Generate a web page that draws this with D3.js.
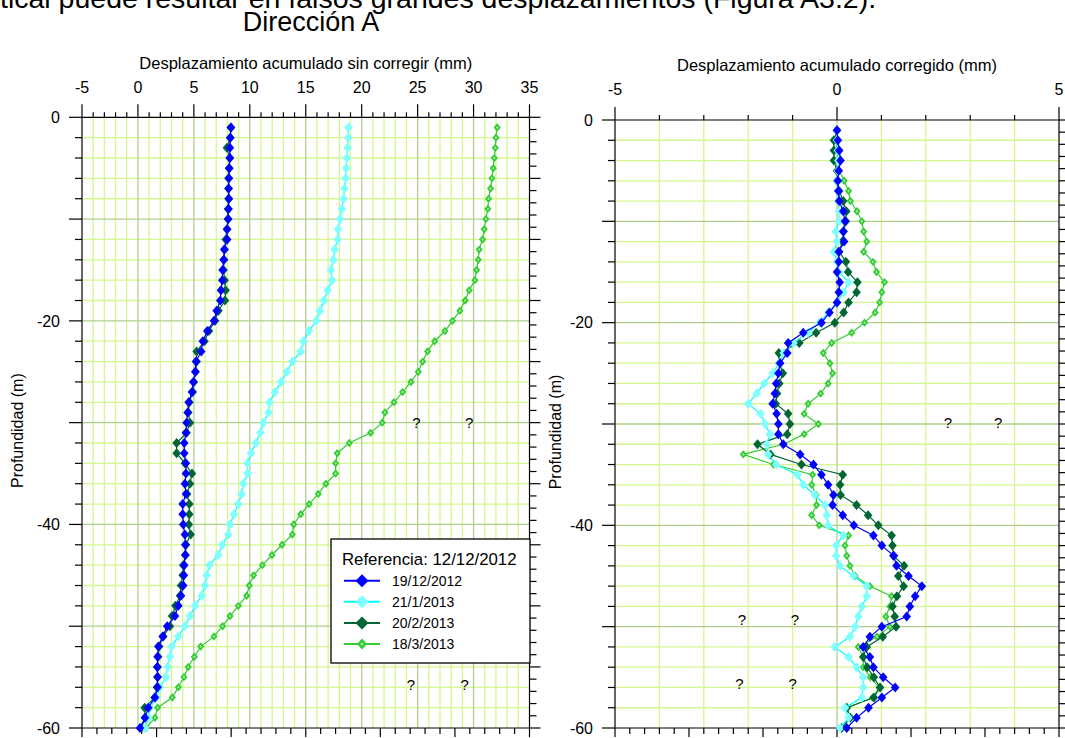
<!DOCTYPE html>
<html><head><meta charset="utf-8">
<script src="https://cdn.jsdelivr.net/npm/d3@7"></script>
<style>
body{margin:0;background:#fff}
svg{display:block}
text{font-family:Arial,"Liberation Sans",sans-serif;fill:#000}
</style>
</head><body>
<svg id="c" width="1065" height="738"></svg>
<script>
// ---------------- DATA ----------------
const depths = [-1,-2,-3,-4,-5,-6,-7,-8,-9,-10,-11,-12,-13,-14,-15,-16,-17,-18,-19,-20,
  -21,-22,-23,-24,-25,-26,-27,-28,-29,-30,-31,-32,-33,-34,-35,-36,-37,-38,-39,-40,
  -41,-42,-43,-44,-45,-46,-47,-48,-49,-50,-51,-52,-53,-54,-55,-56,-57,-58,-59,-60];

const seriesNames = ["19/12/2012","21/1/2013","20/2/2013","18/3/2013"];
const legendTitle = "Referencia: 12/12/2012";

// Left panel: uncorrected cumulative displacement (mm)
const rawBlue = [8.32,8.25,8.22,8.22,8.16,8.13,8.10,8.13,8.10,8.07,
  7.98,7.98,7.72,7.66,7.57,7.54,7.42,7.36,7.03,6.80,
  6.20,5.80,5.66,5.19,5.13,4.95,4.83,4.53,4.44,4.35,
  4.29,4.14,4.14,4.29,4.29,4.20,4.29,4.00,4.00,4.05,
  4.20,4.23,4.23,4.14,4.11,4.05,3.85,3.61,3.31,2.62,
  2.21,1.82,1.76,1.73,1.76,1.76,1.52,0.92,0.63,0.18];
const rawCyan = [18.83,18.80,18.74,18.68,18.62,18.56,18.47,18.38,18.23,18.06,
  17.90,17.85,17.58,17.46,17.25,17.34,16.96,16.63,16.27,15.94,
  15.29,14.80,14.54,13.82,13.32,12.80,12.25,11.77,11.68,11.20,
  10.95,10.55,10.10,9.77,9.80,9.42,9.27,8.97,8.58,8.23,
  8.07,7.54,7.18,6.40,6.14,5.99,5.70,5.10,4.65,4.20,
  3.61,3.01,2.86,2.66,2.51,1.97,1.67,1.08,0.93,0.63];
const rawDarkGreen = [8.30,8.25,7.95,8.20,8.15,8.10,8.10,8.10,8.05,8.05,
  7.95,7.85,7.75,7.70,7.65,7.75,7.84,7.78,7.20,6.90,
  6.35,5.95,5.25,5.25,5.15,5.00,4.90,4.60,4.50,4.65,
  4.35,3.46,3.46,4.20,4.83,4.65,4.40,4.59,4.59,4.55,
  4.71,4.30,4.25,4.05,4.00,3.85,3.76,3.35,3.05,2.86,
  2.27,1.90,1.80,1.75,1.75,1.70,1.50,0.60,0.65,0.30];
const rawGreen = [32.11,32.00,31.94,31.85,31.76,31.64,31.52,31.34,31.28,31.10,
  30.95,30.80,30.50,30.42,30.27,30.12,29.61,29.25,28.78,28.12,
  27.44,26.52,25.89,25.45,25.06,24.40,23.66,22.88,22.08,21.84,
  20.80,18.89,17.82,17.67,17.67,16.80,16.12,15.30,14.55,13.92,
  13.80,12.88,11.98,11.12,10.34,9.95,9.72,8.97,8.23,7.57,
  6.80,5.61,5.04,4.50,4.11,3.61,3.07,1.76,1.52,0.72];

// Right panel: corrected cumulative displacement (mm)
const corBlue = [0.00,0.02,0.05,0.08,0.04,0.02,0.03,0.05,0.14,0.18,
  0.14,0.16,0.04,0.04,0.00,0.06,0.04,0.00,-0.17,-0.35,
  -0.76,-1.10,-1.12,-1.28,-1.32,-1.37,-1.40,-1.45,-1.36,-1.32,
  -1.32,-1.21,-0.83,-0.53,-0.35,-0.20,-0.08,-0.10,0.13,0.38,
  0.82,1.01,1.28,1.34,1.61,1.91,1.76,1.64,1.57,1.01,
  0.74,0.59,0.74,0.82,1.04,1.31,1.01,0.71,0.44,0.22];
const corCyan = [0.00,0.00,0.02,0.03,0.02,0.00,0.02,0.03,0.05,0.05,
  -0.03,0.00,-0.07,0.00,0.05,0.26,0.15,0.00,-0.20,-0.40,
  -0.65,-0.98,-1.20,-1.30,-1.45,-1.64,-1.81,-2.00,-1.72,-1.62,
  -1.51,-1.58,-1.55,-1.37,-0.89,-0.76,-0.50,-0.27,-0.23,-0.20,
  0.14,-0.02,-0.02,0.07,0.37,0.67,0.67,0.56,0.48,0.41,
  0.29,-0.05,0.26,0.44,0.59,0.59,0.56,0.18,0.26,0.07];
const corDarkGreen = [0.00,-0.07,-0.07,-0.07,0.00,0.00,0.05,0.14,0.21,0.20,
  0.15,0.12,0.05,0.20,0.25,0.46,0.44,0.26,0.15,-0.05,
  -0.47,-0.85,-1.31,-1.30,-1.22,-1.30,-1.35,-1.38,-1.10,-1.06,
  -1.12,-1.79,-1.50,-0.80,0.13,0.07,0.08,0.44,0.70,0.93,
  1.23,1.25,1.27,1.51,1.38,1.50,1.35,1.25,1.30,1.33,
  1.03,0.67,0.59,0.68,0.83,0.97,0.83,0.22,0.30,0.10];
const corGreen = [0.00,-0.02,0.00,0.02,0.05,0.16,0.26,0.30,0.45,0.56,
  0.60,0.67,0.60,0.81,0.89,1.07,1.01,0.96,0.86,0.62,
  0.33,-0.12,-0.31,-0.16,-0.10,-0.20,-0.37,-0.65,-0.74,-0.42,
  -0.74,-1.20,-2.11,-1.43,-0.55,-0.57,-0.47,-0.46,-0.57,-0.40,
  0.26,0.18,0.22,0.29,0.41,0.74,1.23,1.19,1.10,1.19,
  0.90,0.48,0.59,0.59,0.75,0.95,0.80,0.22,0.30,0.12];

// tick values
const leftXMajor = [-5,0,5,10,15,20,25,30,35];
const rightXMajor = [-5,0,5];
const depthLabels = [0,-20,-40,-60];

// "?" annotations (data coordinates)
const qLeft = [[24.9,-30],[29.6,-30],[24.4,-55.7],[29.2,-55.7]];
const qRight = [[2.5,-29.9],[3.63,-29.9],[-2.14,-49.3],[-0.95,-49.3],[-2.2,-55.6],[-1.0,-55.6]];

// ---------------- STYLE ----------------
const colors = ["#0000ff","#00ffff","#006633","#33cc33"];
const markerFill = ["#0000ff","#80ffff","#006633","#33cc33"];
const gridMinor = "#d4f78f";
const gridMajor = "#b0d08a";

const svg = d3.select("#c");
svg.append("rect").attr("width",1065).attr("height",738).attr("fill","#fff");

// top text (cropped body text) and title
svg.append("text").attr("x",0).attr("y",8).style("font-size","28.5px")
  .text("tical puede resultar en falsos grandes desplazamientos (Figura A3.2).");
svg.append("text").attr("x",311).attr("y",31).attr("text-anchor","middle").style("font-size","27px")
  .text("Dirección A");

function diamond(w,h){return `M0,${-h}L${w},0L0,${h}L${-w},0Z`;}

function panel(opt){
  const x = d3.scaleLinear().domain(opt.xDomain).range(opt.xRange);
  const y = d3.scaleLinear().domain([0,-60]).range(opt.yRange);
  const g = svg.append("g");
  const [x0,x1] = opt.xRange, [y0,y1] = opt.yRange;

  // grid
  const vx = d3.range(opt.xDomain[0]+1, opt.xDomain[1], 1);
  const hy = d3.range(-2,-60,-2);
  const isMajX = v => opt.majorGridX.includes(v);
  const isMajY = v => v % 10 === 0;
  g.selectAll(".vmin").data(vx.filter(v=>!isMajX(v))).join("line")
    .attr("x1",d=>x(d)).attr("x2",d=>x(d)).attr("y1",y0).attr("y2",y1)
    .attr("stroke",gridMinor).attr("stroke-width",1.3);
  g.selectAll(".hmin").data(hy.filter(v=>!isMajY(v))).join("line")
    .attr("y1",d=>y(d)).attr("y2",d=>y(d)).attr("x1",x0).attr("x2",x1)
    .attr("stroke",gridMinor).attr("stroke-width",1.3);
  g.selectAll(".vmaj").data(vx.filter(isMajX)).join("line")
    .attr("x1",d=>x(d)).attr("x2",d=>x(d)).attr("y1",y0).attr("y2",y1)
    .attr("stroke",gridMajor).attr("stroke-width",1.3);
  g.selectAll(".hmaj").data(hy.filter(isMajY)).join("line")
    .attr("y1",d=>y(d)).attr("y2",d=>y(d)).attr("x1",x0).attr("x2",x1)
    .attr("stroke",gridMajor).attr("stroke-width",1.3);

  // axes lines
  const ax = svg.append("g").attr("stroke","#000").attr("stroke-width",1.2);
  ax.append("line").attr("x1",x0).attr("x2",x1).attr("y1",y0).attr("y2",y0);
  ax.append("line").attr("x1",x0).attr("x2",x1).attr("y1",y1).attr("y2",y1);
  ax.append("line").attr("x1",x0).attr("x2",x0).attr("y1",y0).attr("y2",y1).attr("stroke","#333").attr("stroke-width",1.5);
  ax.append("line").attr("x1",x1).attr("x2",x1).attr("y1",y0).attr("y2",y1);

  // top ticks
  const topMinor = d3.range(opt.xDomain[0], opt.xDomain[1]+0.001, 1);
  ax.selectAll(".tt").data(topMinor).join("line")
    .attr("x1",d=>x(d)).attr("x2",d=>x(d)).attr("y1",y0)
    .attr("y2",d=>opt.xMajor.includes(d)? y0-13 : y0-5);
  // left ticks
  const leftT = d3.range(0,-60.001,-2);
  ax.selectAll(".lt").data(leftT).join("line")
    .attr("y1",d=>y(d)).attr("y2",d=>y(d)).attr("x1",x0)
    .attr("x2",d=> d%10===0 ? x0-13 : x0-7);
  // right secondary ticks
  const yR = d3.scaleLinear().domain([0,-50]).range(opt.yRange);
  ax.selectAll(".rt").data(d3.range(0,-50.001,-1)).join("line")
    .attr("y1",d=>yR(d)).attr("y2",d=>yR(d)).attr("x1",x1)
    .attr("x2",d=> d%5===0 ? x1+11 : x1+7);
  // bottom secondary ticks
  const xB = d3.scaleLinear().domain([0,6]).range(opt.xRange);
  ax.selectAll(".bt").data(d3.range(0,6.001,0.2)).join("line")
    .attr("x1",d=>xB(d)).attr("x2",d=>xB(d)).attr("y1",y1)
    .attr("y2",(d,i)=> i%5===0 ? y1+9 : y1+6);

  // labels
  svg.append("g").selectAll("text").data(opt.xMajor).join("text")
    .attr("x",d=>x(d)).attr("y",opt.xLabelY).attr("text-anchor","middle")
    .style("font-size","16px").text(d=>d);
  svg.append("g").selectAll("text").data(depthLabels).join("text")
    .attr("x",x0-22).attr("y",d=>y(d)).attr("dy","0.36em").attr("text-anchor","end")
    .style("font-size","16px").text(d=>d);
  svg.append("text").attr("x",(x0+x1)/2 + opt.titleDx).attr("y",opt.titleY).attr("text-anchor","middle")
    .style("font-size","16.5px").text(opt.title);
  svg.append("text").attr("transform",`translate(${opt.ylabX},${(y0+y1)/2+8}) rotate(-90)`)
    .attr("text-anchor","middle").style("font-size","16px").text("Profundidad (m)");

  // "?" notes
  svg.append("g").selectAll("text").data(opt.q).join("text")
    .attr("x",d=>x(d[0])).attr("y",d=>y(d[1])).attr("dy","0.36em").attr("text-anchor","middle")
    .style("font-size","15px").text("?");

  // series (draw 18/3 first, 19/12 on top)
  const line = d3.line().x(d=>x(d[0])).y(d=>y(d[1]));
  const order = [3,2,1,0];
  order.forEach(k=>{
    const pts = depths.map((dd,i)=>[opt.series[k][i], dd]);
    const sg = svg.append("g");
    sg.append("path").datum(pts).attr("d",line).attr("fill","none")
      .attr("stroke",colors[k]).attr("stroke-width",1.2);
    const sz = k===3 ? [3.6,4.2] : [4.3,5];
    sg.selectAll("path.m").data(pts).join("path").attr("class","m")
      .attr("transform",d=>`translate(${x(d[0])},${y(d[1])})`)
      .attr("d",diamond(sz[0],sz[1])).attr("fill",markerFill[k]);
    if(k===3){
      sg.selectAll("path.c").data(pts).join("path").attr("class","c")
        .attr("transform",d=>`translate(${x(d[0])},${y(d[1])})`)
        .attr("d",diamond(1.3,1.5)).attr("fill","#a8eca8");
    }
  });
  return {x,y};
}

panel({xDomain:[-5,35], xRange:[82,529.5], yRange:[117.3,728], xMajor:leftXMajor,
  majorGridX:[0,5,10,15,20,25,30], xLabelY:93, title:"Desplazamiento acumulado sin corregir (mm)",
  titleY:69, titleDx:0, ylabX:23, q:qLeft,
  series:[rawBlue,rawCyan,rawDarkGreen,rawGreen]});

panel({xDomain:[-5,5], xRange:[615,1059], yRange:[120,728], xMajor:rightXMajor,
  majorGridX:[0], xLabelY:95, title:"Desplazamiento acumulado corregido (mm)",
  titleY:71, titleDx:0, ylabX:561, q:qRight,
  series:[corBlue,corCyan,corDarkGreen,corGreen]});

// ---------------- LEGEND ----------------
const lg = svg.append("g");
lg.append("rect").attr("x",331).attr("y",539).attr("width",199).attr("height",124)
  .attr("fill","#fff").attr("stroke","#000").attr("stroke-width",1.3);
lg.append("text").attr("x",342).attr("y",565).style("font-size","16.8px").text(legendTitle);
seriesNames.forEach((nm,k)=>{
  const yy = 580.7 + k*21.1;
  lg.append("line").attr("x1",344).attr("x2",380).attr("y1",yy).attr("y2",yy)
    .attr("stroke",colors[k]).attr("stroke-width",2);
  lg.append("path").attr("transform",`translate(362,${yy})`)
    .attr("d", k===3 ? diamond(5,5.5) : diamond(6.5,6.5)).attr("fill",markerFill[k]);
  if(k===3) lg.append("path").attr("transform",`translate(362,${yy})`).attr("d",diamond(1.6,1.8)).attr("fill","#a8eca8");
  lg.append("text").attr("x",392).attr("y",yy).attr("dy","0.36em").style("font-size","14px").text(nm);
});
</script>
</body></html>
